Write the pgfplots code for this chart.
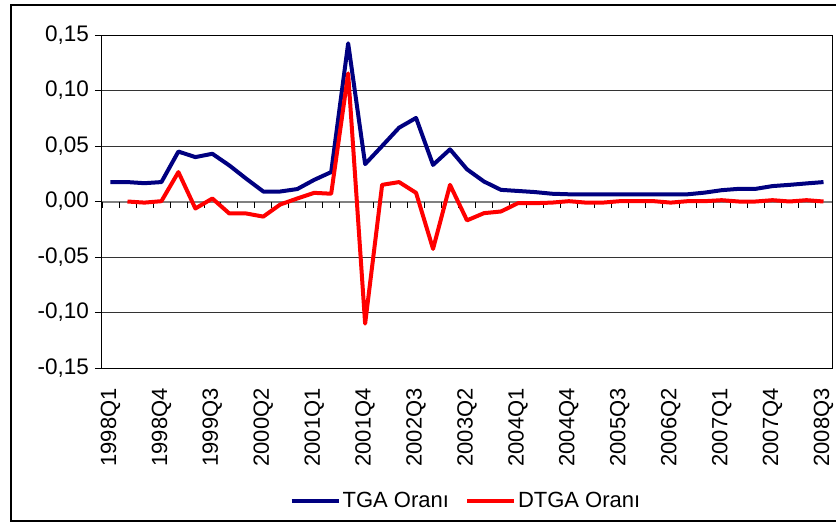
\documentclass[border=0pt]{standalone}
\usepackage{pgfplots}
\pgfplotsset{compat=1.18}
\usepackage{pgfplotstable}
\usepackage{fontspec}
\setmainfont{Liberation Sans}
\definecolor{tgablue}{HTML}{000080}
\definecolor{dtgared}{HTML}{FF0000}

\pgfplotstableread{
i v
0 0.0175
1 0.0175
2 0.0165
3 0.0175
4 0.0450
5 0.0400
6 0.0430
7 0.0325
8 0.0205
9 0.0090
10 0.0090
11 0.0112
12 0.0195
13 0.0265
14 0.1425
15 0.0337
16 0.0500
17 0.0665
18 0.0753
19 0.0330
20 0.0470
21 0.0290
22 0.0180
23 0.0105
24 0.0095
25 0.0085
26 0.0070
27 0.0065
28 0.0065
29 0.0065
30 0.0065
31 0.0065
32 0.0065
33 0.0065
34 0.0065
35 0.0080
36 0.0102
37 0.0114
38 0.0114
39 0.0139
40 0.0150
41 0.0163
42 0.0175
}\tga

\pgfplotstableread{
i v
1 0.0000
2 -0.0010
3 0.0003
4 0.0265
5 -0.0063
6 0.0027
7 -0.0108
8 -0.0108
9 -0.0136
10 -0.0027
11 0.0027
12 0.0078
13 0.0070
14 0.1154
15 -0.1100
16 0.0150
17 0.0175
18 0.0078
19 -0.0427
20 0.0150
21 -0.0170
22 -0.0105
23 -0.0090
24 -0.0015
25 -0.0015
26 -0.0010
27 0.0003
28 -0.0010
29 -0.0010
30 0.0003
31 0.0003
32 0.0003
33 -0.0010
34 0.0003
35 0.0003
36 0.0012
37 0.0000
38 0.0000
39 0.0012
40 0.0000
41 0.0012
42 0.0000
}\dtga

\begin{document}
\begin{tikzpicture}[x=1pt,y=1pt]
\useasboundingbox (0,0) rectangle (836,523);
\draw[line width=1.6pt] (837,518) -- (11,518) -- (11,2) -- (837,2);
\begin{axis}[
  at={(102pt,155pt)}, anchor=south west,
  scale only axis, width=730pt, height=333pt,
  xmin=-0.5, xmax=42.5, ymin=-0.15, ymax=0.15,
  axis line style={black, line width=1pt},
  xtick={0,3,...,42},
  xticklabels={1998Q1,1998Q4,1999Q3,2000Q2,2001Q1,2001Q4,2002Q3,2003Q2,2004Q1,2004Q4,2005Q3,2006Q2,2007Q1,2007Q4,2008Q3},
  xtick style={draw=none},
  xticklabel style={rotate=90, anchor=east, inner sep=0pt, font=\fontsize{22}{26}\selectfont},
  xticklabel shift={13pt},
  ytick={-0.15,-0.1,-0.05,0,0.05,0.1,0.15},
  ytick pos=left,
  ytick style={black, line width=0.8pt},
  major tick length=7pt,
  tick align=outside,
  yticklabel style={anchor=east, inner sep=0pt, font=\fontsize{22.5}{26}\selectfont},
  yticklabel shift={6pt},
  /pgf/number format/.cd, use comma, fixed, fixed zerofill, precision=2, assume math mode=true,
  /pgfplots/.cd,
  ymajorgrids, grid style={black!80, line width=0.8pt},
  legend style={at={(rel axis cs:0.4986,-0.3994)}, anchor=center, draw=none, fill=none,
    legend columns=2, font=\fontsize{22}{26}\selectfont,
    /tikz/every even column/.append style={column sep=14pt},
    legend cell align=left},
  legend image code/.code={\draw[#1, line width=4pt] (0pt,0pt) -- (47pt,0pt);},
  clip=false,
]
\draw[black!50, line width=2pt] (axis cs:-0.5,0) -- (axis cs:42.5,0);
\pgfplotsinvokeforeach{-0.5,0.5,...,42.5}{\draw[black, line width=0.7pt] (axis cs:#1,0) -- ++(0pt,-6pt);}
\addplot[tgablue, line width=4pt, line join=round, no marks] table[x=i,y=v] {\tga};
\addlegendentry{TGA Oranı}
\addplot[dtgared, line width=4pt, line join=round, no marks] table[x=i,y=v] {\dtga};
\addlegendentry{DTGA Oranı}
\end{axis}
\end{tikzpicture}
\end{document}
